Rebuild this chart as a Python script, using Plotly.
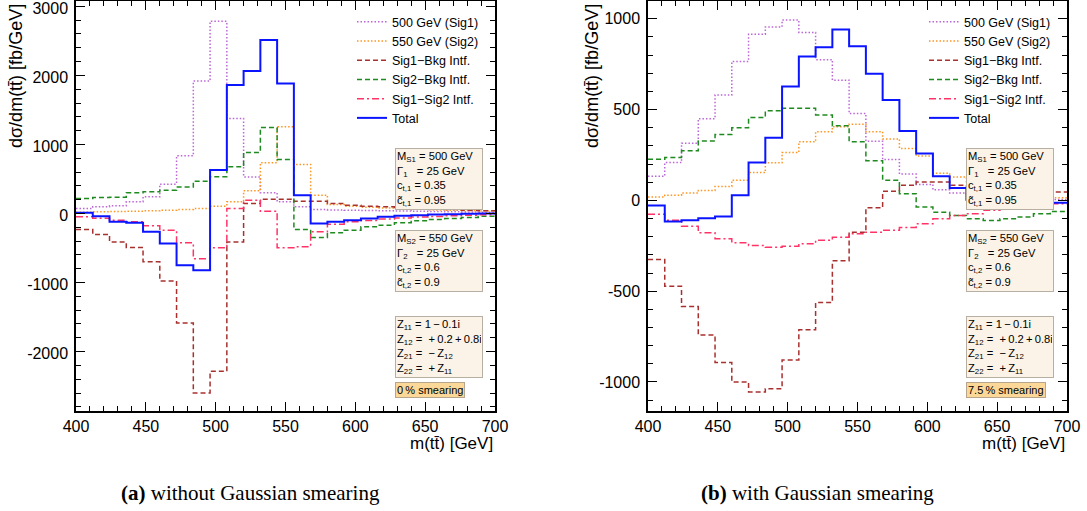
import plotly.graph_objects as go

# ---------------- data ----------------
bin_edges = list(range(400, 701, 12))  # 25 bins of 12 GeV

series_names = ["500 GeV (Sig1)", "550 GeV (Sig2)", "Sig1\u2212Bkg Intf.",
                "Sig2\u2212Bkg Intf.", "Sig1\u2212Sig2 Intf.", "Total"]

# (a) without smearing
a_sig1 = [72, 97, 111, 169, 241, 425, 835, 1917, 2782, 1376, 530, 299, 169, 96, 58,
          52, 48, 44, 40, 36, 32, 28, 24, 20, 17]
a_sig2 = [19, 24, 29, 34, 39, 48, 58, 72, 106, 169, 328, 733, 1255, 710, 265,
          130, 105, 90, 78, 68, 60, 52, 46, 40, 35]
a_s1bkg = [-232, -304, -411, -493, -700, -976, -1584, -2599, -2285, -411, 145, 207, 207,
           178, 178, 145, 121, 106, 97, 87, 78, 68, 58, 48, 39]
a_s2bkg = [217, 232, 237, 300, 314, 338, 382, 468, 531, 676, 884, 1246, 782, -232, -348,
           -280, -242, -193, -169, -135, -106, -87, -72, -58, -39]
a_s1s2 = [-48, -68, -97, -121, -179, -242, -425, -657, -497, 72, 193, 33, -497, -483, -266,
          -155, -120, -100, -80, -65, -52, -42, -33, -25, -18]
a_total = [10, -39, -121, -135, -266, -435, -749, -821, 628, 1860, 2062, 2512, 1884, 265, -145,
           -121, -97, -72, -48, -34, -24, -14, -10, -5, 0]

# (b) with 7.5% smearing
b_sig1 = [133, 208, 315, 450, 580, 765, 915, 955, 993, 925, 775, 662, 478, 326, 225,
          145, 88, 58, 41, 30, 22, 15, 10, 7, 5]
b_sig2 = [18, 28, 41, 55, 77, 111, 153, 207, 264, 323, 378, 406, 419, 378, 338,
          286, 244, 150, 129, 92, 65, 46, 31, 22, 15]
b_s1bkg = [-326, -473, -584, -742, -893, -1000, -1055, -1037, -879, -713, -562, -333, -175,
           -41, 50, 83, 101, 101, 83, 74, 65, 55, 50, 46, 46]
b_s2bkg = [227, 236, 273, 327, 363, 400, 456, 493, 507, 507, 470, 411, 323, 218, 111,
           37, -37, -65, -83, -101, -111, -101, -92, -74, -61]
b_s1s2 = [-77, -110, -142, -179, -212, -234, -249, -258, -252, -239, -219, -203, -184, -175,
          -164, -149, -129, -101, -83, -74, -55, -41, -31, -24, -18]
b_total = [-28, -116, -109, -98, -89, 28, 208, 345, 627, 793, 843, 941, 849, 697, 553,
           382, 258, 133, 68, 4, -9, -22, -24, -18, -13]

x_ticks = [400, 450, 500, 550, 600, 650, 700]
a_yticks = [-2000, -1000, 0, 1000, 2000, 3000]
a_yticktext = ["-2000", "-1000", "0", "1000", "2000", "3000"]
b_yticks = [-1000, -500, 0, 500, 1000]
b_yticktext = ["-1000", "-500", "0", "500", "1000"]

# ---------------- styles ----------------
styles = [
    dict(color="#bb66d6", dash="1.5px,2px", width=1.5),
    dict(color="#ff9520", dash="1.5px,2px", width=1.5),
    dict(color="#a8312f", dash="5px,3px", width=1.5),
    dict(color="#1f8a1f", dash="5px,3px", width=1.5),
    dict(color="#ff3366", dash="7px,3px,2px,3px", width=1.5),
    dict(color="#0a14ff", dash="solid", width=2),
]

W, H = 1087, 511
FONT = "Liberation Sans, Arial, sans-serif"


def px(xp):
    return xp / W


def py(yp):
    return 1 - yp / H


fig = go.Figure()

panels = [
    ("x", "y", "legend", [a_sig1, a_sig2, a_s1bkg, a_s2bkg, a_s1s2, a_total]),
    ("x2", "y2", "legend2", [b_sig1, b_sig2, b_s1bkg, b_s2bkg, b_s1s2, b_total]),
]
for xa, ya, leg, series in panels:
    for name, vals, st in zip(series_names, series, styles):
        fig.add_trace(go.Scatter(
            x=bin_edges, y=vals + [vals[-1]], mode="lines", line_shape="hv",
            line=st, name=name, xaxis=xa, yaxis=ya, legend=leg,
        ))

axis_common = dict(
    showline=True, linecolor="black", linewidth=1.5, mirror="allticks",
    ticks="inside", ticklen=9, tickwidth=1.2, tickcolor="black",
    showgrid=False, zeroline=False, automargin=False, ticklabeloverflow="allow",
    tickfont=dict(family=FONT, size=16, color="black"),
)

ydom = [py(411), py(1)]
fig.update_layout(
    width=W, height=H,
    margin=dict(l=0, r=0, t=0, b=0, autoexpand=False),
    paper_bgcolor="white", plot_bgcolor="white",
    font=dict(family=FONT, color="black"),
    xaxis=dict(domain=[px(76), px(495)], range=[400, 700], tickvals=x_ticks,
               anchor="y",
               minor=dict(dtick=10, ticks="inside", ticklen=5, tickcolor="black", showgrid=False),
               **axis_common),
    yaxis=dict(domain=ydom, range=[-2860, 3077], tickvals=a_yticks, ticktext=a_yticktext,
               anchor="x", ticklabelstandoff=3, ticklabelshift=2,
               minor=dict(dtick=200, ticks="inside", ticklen=5, tickcolor="black", showgrid=False),
               **axis_common),
    xaxis2=dict(domain=[px(648), px(1067)], range=[400, 700], tickvals=x_ticks,
                anchor="y2",
                minor=dict(dtick=10, ticks="inside", ticklen=5, tickcolor="black", showgrid=False),
                **axis_common),
    yaxis2=dict(domain=ydom, range=[-1160, 1098], tickvals=b_yticks, ticktext=b_yticktext,
                anchor="x2", ticklabelstandoff=3,
                minor=dict(dtick=100, ticks="inside", ticklen=5, tickcolor="black", showgrid=False),
                **axis_common),
    legend=dict(x=px(352), y=py(7), xanchor="left", yanchor="top",
                bgcolor="rgba(0,0,0,0)", font=dict(family=FONT, size=12.5),
                itemwidth=30, tracegroupgap=0),
    legend2=dict(x=px(924), y=py(7), xanchor="left", yanchor="top",
                 bgcolor="rgba(0,0,0,0)", font=dict(family=FONT, size=12.5),
                 itemwidth=30, tracegroupgap=0),
    showlegend=True,
)

NB = "\u00a0"
TS = "\u2009"
box1 = (f"M<sub>S1</sub>{NB}={NB}500{NB}GeV<br>\u0393<sub>1</sub>{NB}{NB}{NB}={NB}25{NB}GeV<br>"
        f"c<sub>t,1</sub>{NB}={NB}0.35<br>c\u0303<sub>t,1</sub>{NB}={NB}0.95")
box2 = (f"M<sub>S2</sub>{NB}={NB}550{NB}GeV<br>\u0393<sub>2</sub>{NB}{NB}{NB}={NB}25{NB}GeV<br>"
        f"c<sub>t,2</sub>{NB}={NB}0.6<br>c\u0303<sub>t,2</sub>{NB}={NB}0.9")
box3 = (f"Z<sub>11</sub>{NB}={NB}1{TS}\u2212{TS}0.1i<br>"
        f"Z<sub>12</sub>{NB}={NB}{NB}+{TS}0.2{TS}+{TS}0.8i<br>"
        f"Z<sub>21</sub>{NB}={NB}{NB}\u2212{TS}Z<sub>12</sub><br>"
        f"Z<sub>22</sub>{NB}={NB}{NB}+{TS}Z<sub>11</sub>")

annotations = []
box_font = dict(family=FONT, size=11.2, color="black")
for xl, smear in [(395, f"0{TS}%{NB}smearing"), (966, f"7.5{TS}%{NB}smearing")]:
    for ytop, txt in [(148, box1), (230, box2), (316, box3)]:
        annotations.append(dict(
            x=px(xl), y=py(ytop), xref="paper", yref="paper", xanchor="left", yanchor="top",
            text=txt, showarrow=False, align="left", font=box_font, width=84,
            bgcolor="#fbf3e7", bordercolor="#b8afa3", borderwidth=1, borderpad=1,
        ))
    annotations.append(dict(
        x=px(xl), y=py(382), xref="paper", yref="paper", xanchor="left", yanchor="top",
        text=smear, showarrow=False, align="left", font=dict(family=FONT, size=11, color="black"),
        bgcolor="#fcd898", bordercolor="#b8a68c", borderwidth=1, borderpad=1,
    ))

ytitle = "d\u03c3/dm(tt\u0304) [fb/GeV]"
xtitle = "m(tt\u0304) [GeV]"
for xc in [16, 592]:
    annotations.append(dict(
        x=px(xc), y=py(2), xref="paper", yref="paper", xanchor="center", yanchor="top",
        text=ytitle, textangle=-90, showarrow=False, font=dict(family=FONT, size=18, color="black"),
    ))
for xr in [495, 1067]:
    annotations.append(dict(
        x=px(xr), y=py(443), xref="paper", yref="paper", xanchor="right", yanchor="middle",
        text=xtitle, showarrow=False, font=dict(family=FONT, size=17, color="black"),
    ))

SERIF = "Liberation Serif, Times New Roman, serif"
annotations.append(dict(
    x=px(250), y=py(493), xref="paper", yref="paper", xanchor="center", yanchor="middle",
    text="<b>(a)</b> without Gaussian smearing", showarrow=False,
    font=dict(family=SERIF, size=21, color="black"),
))
annotations.append(dict(
    x=px(817), y=py(493), xref="paper", yref="paper", xanchor="center", yanchor="middle",
    text="<b>(b)</b> with Gaussian smearing", showarrow=False,
    font=dict(family=SERIF, size=21, color="black"),
))

fig.update_layout(annotations=annotations)
fig.write_html("out.html", config={"displayModeBar": False},
               post_script="document.body.style.margin='0';document.body.style.padding='0';")
